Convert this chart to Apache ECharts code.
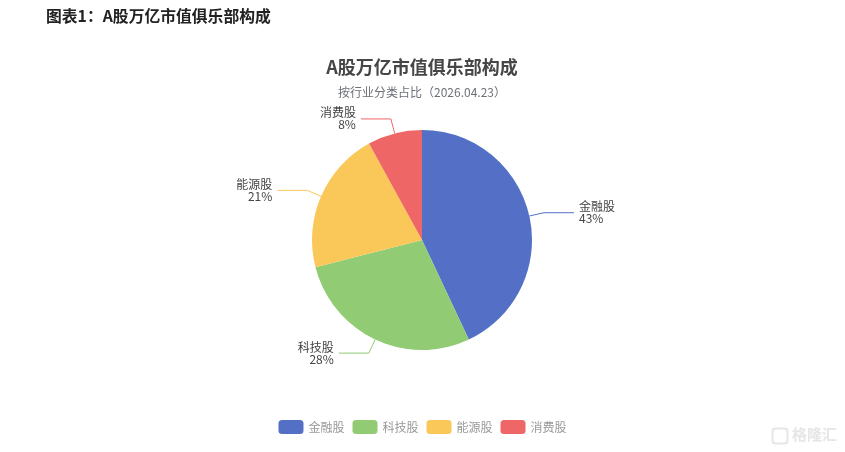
<!DOCTYPE html>
<html><head><meta charset="utf-8">
<style>html,body{margin:0;padding:0;background:#fff}#c{width:845px;height:452px}</style>
<script src="https://cdn.jsdelivr.net/npm/echarts@6/dist/echarts.min.js"></script>
</head><body><div id="c"></div>
<script>
const categories = ['金融股','科技股','能源股','消费股'];
const shares = [43,28,21,8];
const colors = ['#5470c6','#91cc75','#fac858','#ee6666'];
const heading = '图表1\uFF1AA股万亿市值俱乐部构成';
const chartTitle = 'A股万亿市值俱乐部构成';
const chartSubtitle = '按行业分类占比\uFF082026.04.23\uFF09';
const font = '"Noto Sans CJK SC","Microsoft YaHei",sans-serif';
const chart = echarts.init(document.getElementById('c'), null, {renderer:'canvas'});
chart.setOption({
  animation:false,
  color:colors,
  textStyle:{fontFamily:font},
  title:[
    {text:heading,left:41,top:3,textStyle:{fontFamily:font,fontSize:15.8,fontWeight:'bold',color:'#222'}},
    {text:chartTitle,left:417,textAlign:'center',top:53,textStyle:{fontFamily:font,fontSize:18,fontWeight:'bold',color:'#464646'}},
    {text:chartSubtitle,left:417,textAlign:'center',top:81,textStyle:{fontFamily:font,fontSize:12,fontWeight:'normal',color:'#6e7079'}}
  ],
  legend:{data:categories,bottom:13,left:'center',itemWidth:25,itemHeight:14,itemGap:8,
    textStyle:{fontFamily:font,fontSize:12,color:'#999'}},
  graphic:[{type:'text',right:8,bottom:10,style:{text:'格隆汇',fontFamily:font,fontSize:15,fontWeight:'bold',fill:'#e6e6e6'}},
           {type:'rect',left:770,top:426,shape:{width:15,height:15,r:3},style:{fill:'none',stroke:'#e6e6e6',lineWidth:2}}],
  series:[{type:'pie',center:[422,240],radius:[0,110],startAngle:90,clockwise:true,
    data:categories.map((n,i)=>({name:n,value:shares[i]})),
    label:{formatter:'{b}\n{d}%',fontFamily:font,fontSize:12,lineHeight:12,color:'#444',alignTo:'none',overflow:'none'},
    labelLine:{length:15,length2:30,lineStyle:{width:1}}
  }]
});
</script></body></html>
